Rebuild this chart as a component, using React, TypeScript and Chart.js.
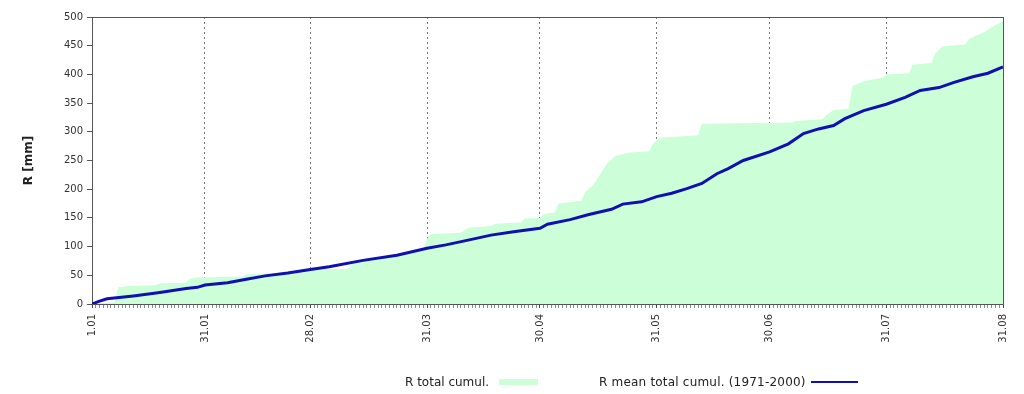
import React, { useEffect, useRef } from "react";
import { Chart, registerables } from "chart.js";

Chart.register(...registerables);

// Day index from 1 January (0) to 31 August (242)
const tickDays = [0, 30, 58, 89, 119, 150, 180, 211, 242];
const tickLabels = ["1.01", "31.01", "28.02", "31.03", "30.04", "31.05", "30.06", "31.07", "31.08"];
const lastDay = 242;

// R total cumul. (mm) – read at the days where the cumulative curve changes
const greenDays = [0, 6, 7, 9, 17, 18, 25, 26, 28, 40, 41, 46, 52, 57, 59, 68, 69, 72, 80, 85, 88, 89, 90, 98, 100, 106, 107, 114, 115, 119, 120, 123, 124, 130, 131, 133, 135, 137, 139, 143, 148, 149, 151, 156, 161, 162, 186, 187, 194, 195, 197, 201, 202, 205, 210, 211, 217, 218, 223, 224, 226, 232, 233, 237, 240, 242];
const greenValues = [0, 3, 29, 31, 33, 36, 37, 44, 46, 48, 52, 53, 55, 58, 61, 61, 72, 75, 83, 89, 94, 114, 122, 124, 133, 136, 140, 142, 149, 150, 157, 160, 175, 180, 195, 206, 226, 246, 258, 264, 266, 279, 290, 292, 294, 314, 316, 319, 322, 329, 338, 340, 380, 388, 394, 400, 402, 417, 420, 437, 449, 452, 462, 474, 486, 492];

// R mean total cumul. (1971-2000) (mm)
const blueDays = [0, 2, 4, 11, 18, 25, 28, 30, 36, 41, 46, 52, 58, 63, 72, 81, 89, 94, 99, 106, 112, 119, 121, 127, 132, 138, 141, 146, 150, 154, 158, 162, 166, 169, 173, 180, 185, 189, 193, 197, 200, 205, 211, 216, 220, 225, 229, 234, 238, 242];
const blueValues = [0, 5, 9, 14, 20, 27, 29, 33, 37, 43, 49, 54, 60, 65, 76, 85, 97, 103, 110, 120, 126, 132, 139, 147, 156, 165, 174, 178, 187, 193, 201, 210, 227, 236, 250, 265, 279, 297, 305, 311, 323, 337, 348, 360, 372, 377, 386, 396, 402, 413];

const seriesNames = ["R total cumul.", "R mean total cumul. (1971-2000)"];
const yTitle = "R [mm]";

const GREEN = "rgb(204,255,215)";
const BLUE = "rgb(16,16,178)";
const AXIS = "#555";
const FONT = "'DejaVu Sans', 'Liberation Sans', Arial, sans-serif";

export default function App() {
  const ref = useRef<HTMLCanvasElement>(null);

  useEffect(() => {
    const canvas = ref.current;
    if (!canvas) return;
    const chart = new Chart(canvas, {
      type: "line",
      data: {
        datasets: [
          {
            label: seriesNames[1],
            data: blueDays.map((d, i) => ({ x: d, y: blueValues[i] })),
            borderColor: BLUE,
            borderWidth: 3,
            pointRadius: 0,
            fill: false,
            tension: 0,
            order: 1,
          },
          {
            label: seriesNames[0],
            data: greenDays.map((d, i) => ({ x: d, y: greenValues[i] })),
            borderColor: GREEN,
            borderWidth: 0,
            backgroundColor: GREEN,
            pointRadius: 0,
            fill: "origin",
            tension: 0,
            order: 2,
          },
        ],
      },
      options: {
        animation: false,
        responsive: false,
        layout: { padding: { left: 0, right: 21, top: 17, bottom: 0 } },
        plugins: { legend: { display: false }, tooltip: { enabled: false } },
        scales: {
          x: {
            type: "linear",
            position: "bottom",
            min: 0,
            max: lastDay,
            afterBuildTicks: (s: any) => {
              const t: any[] = [];
              for (let d = 0; d <= lastDay; d++) t.push({ value: d });
              s.ticks = t;
            },
            afterFit: (s: any) => {
              s.height = 90;
            },
            ticks: {
              autoSkip: false,
              maxRotation: 90,
              minRotation: 90,
              padding: 6,
              color: "#333",
              font: { family: FONT, size: 10 },
              callback: (v: any) => {
                const i = tickDays.indexOf(Number(v));
                return i >= 0 ? tickLabels[i] : "";
              },
            },
            grid: {
              drawOnChartArea: true,
              color: (ctx: any) =>
                ctx.tick && tickDays.includes(ctx.tick.value) ? "#777" : "rgba(0,0,0,0)",
              tickColor: (ctx: any) =>
                ctx.tick && tickDays.includes(ctx.tick.value) ? "#444" : "#888",
              tickLength: 4,
              lineWidth: 1,
            },
            border: { color: AXIS, width: 1, dash: [2, 3] },
          },
          x2: {
            type: "linear",
            position: "top",
            min: 0,
            max: lastDay,
            ticks: { display: false },
            grid: { drawOnChartArea: false, drawTicks: false },
            border: { color: AXIS, width: 1 },
            afterFit: (s: any) => {
              s.height = 0;
            },
          },
          y: {
            type: "linear",
            position: "left",
            min: 0,
            max: 500,
            ticks: {
              stepSize: 50,
              color: "#333",
              padding: 4,
              font: { family: FONT, size: 10 },
            },
            grid: { drawOnChartArea: false, tickLength: 5, tickColor: AXIS },
            border: { color: AXIS, width: 1 },
            title: {
              display: true,
              text: yTitle,
              color: "#222",
              font: { family: FONT, size: 12, weight: "bold" },
              padding: { top: 22, bottom: 0 },
            },
            afterFit: (s: any) => {
              s.width = 92;
            },
          },
          y2: {
            type: "linear",
            position: "right",
            min: 0,
            max: 500,
            ticks: { display: false },
            grid: { drawOnChartArea: false, drawTicks: false },
            border: { color: AXIS, width: 1 },
            afterFit: (s: any) => {
              s.width = 0;
            },
          },
        },
      } as any,
    });
    return () => chart.destroy();
  }, []);

  const textStyle: React.CSSProperties = {
    position: "absolute",
    top: 375,
    fontFamily: FONT,
    fontSize: 12,
    lineHeight: "14px",
    color: "#222",
    whiteSpace: "nowrap",
  };

  return (
    <div style={{ position: "absolute", left: 0, top: 0, width: 1024, height: 394, background: "#fff" }}>
      <canvas ref={ref} width={1024} height={394} style={{ display: "block", width: 1024, height: 394 }} />
      <span style={{ ...textStyle, left: 405 }}>{seriesNames[0]}</span>
      <div style={{ position: "absolute", left: 499, top: 379, width: 39, height: 6, background: GREEN }} />
      <span style={{ ...textStyle, left: 599, letterSpacing: "0.2px" }}>{seriesNames[1]}</span>
      <div style={{ position: "absolute", left: 811, top: 381, width: 47, height: 2, background: BLUE }} />
    </div>
  );
}
